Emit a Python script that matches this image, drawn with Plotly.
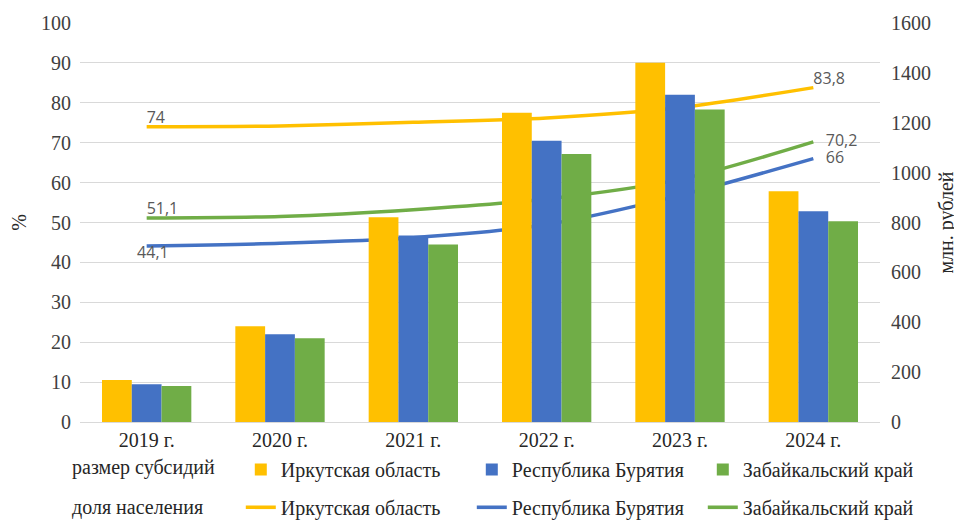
import plotly.graph_objects as go

years = ["2019 г.", "2020 г.", "2021 г.", "2022 г.", "2023 г.", "2024 г."]
regions = ["Иркутская область", "Республика Бурятия", "Забайкальский край"]
colors = ["#FFC000", "#4472C4", "#70AD47"]

# размер субсидий, млн. рублей (right axis)
subsidy_irk = [168, 384, 821, 1240, 1441, 925]
subsidy_bur = [151, 352, 748, 1128, 1312, 845]
subsidy_zab = [144, 336, 712, 1075, 1253, 805]

# доля населения, % (left axis)
share_irk = [74, 74.2, 75.1, 76.2, 78.8, 83.8]
share_bur = [44.1, 44.8, 46.2, 49.5, 56.8, 66]
share_zab = [51.1, 51.5, 53.2, 55.9, 60.8, 70.2]

NB = "\u00a0"
share_labels = [
    ["74", "", "", "", "", "83,8"],
    [NB * 3 + "44,1", "", "", "", "", NB * 3 + "66"],
    ["51,1", "", "", "", "", NB * 3 + "70,2"],
]
label_pos = [
    ["top right"] * 5 + ["top right"],
    ["bottom center"] * 5 + ["middle right"],
    ["top right"] * 5 + ["middle right"],
]

SERIF = "Liberation Serif, Times New Roman, serif"
TXT = "#262626"
FS = 20
fig = go.Figure()

for name, vals, col in zip(regions, [subsidy_irk, subsidy_bur, subsidy_zab], colors):
    fig.add_trace(
        go.Bar(
            x=years, y=vals, name=name, marker=dict(color=col, line=dict(width=0)),
            yaxis="y2", legend="legend",
        )
    )

for i, (name, vals, col) in enumerate(zip(regions, [share_irk, share_bur, share_zab], colors)):
    fig.add_trace(
        go.Scatter(
            x=years, y=vals, name=name, mode="lines+text",
            line=dict(color=col, width=3.5, shape="spline", smoothing=0.8),
            text=share_labels[i], textposition=label_pos[i],
            textfont=dict(family="Open Sans", size=16, color="#595959"),
            yaxis="y", legend="legend2", cliponaxis=False,
        )
    )

fig.add_annotation(text="размер субсидий", xref="paper", yref="paper", x=-0.0125, y=-0.115,
                   xanchor="left", yanchor="middle", showarrow=False,
                   font=dict(family=SERIF, size=FS, color=TXT))
fig.add_annotation(text="доля населения", xref="paper", yref="paper", x=-0.0125, y=-0.215,
                   xanchor="left", yanchor="middle", showarrow=False,
                   font=dict(family=SERIF, size=FS, color=TXT))

fig.update_layout(
    width=954,
    height=513,
    plot_bgcolor="white",
    paper_bgcolor="white",
    barmode="group",
    bargap=0.33,
    bargroupgap=0,
    margin=dict(l=72, r=82, t=15, b=99, autoexpand=False),
    font=dict(family=SERIF, size=FS, color="#404040"),
    xaxis=dict(showgrid=False, showline=True, linecolor="#d9d9d9", ticks="",
               tickfont=dict(family=SERIF, size=FS, color=TXT)),
    yaxis=dict(range=[0, 100], dtick=10, showgrid=True, gridcolor="#d9d9d9",
               zeroline=False, ticklabelstandoff=8,
               title=dict(text="%", standoff=10, font=dict(family=SERIF, size=FS, color=TXT)),
               tickfont=dict(family=SERIF, size=FS, color="#404040")),
    yaxis2=dict(range=[0, 1600], dtick=200, overlaying="y", side="right",
                showgrid=False, zeroline=False, ticklabelstandoff=10,
                title=dict(text="млн. рублей", standoff=8, font=dict(family=SERIF, size=FS, color=TXT)),
                tickfont=dict(family=SERIF, size=FS, color="#404040")),
    legend=dict(
        orientation="h", x=0.201, y=-0.07, xanchor="left", yanchor="top",
        entrywidth=186, font=dict(family=SERIF, size=FS, color=TXT), bgcolor="rgba(0,0,0,0)",
    ),
    legend2=dict(
        orientation="h", x=0.201, y=-0.165, xanchor="left", yanchor="top",
        entrywidth=186, font=dict(family=SERIF, size=FS, color=TXT), bgcolor="rgba(0,0,0,0)",
    ),
    showlegend=True,
)

fig.write_html("out.html")
